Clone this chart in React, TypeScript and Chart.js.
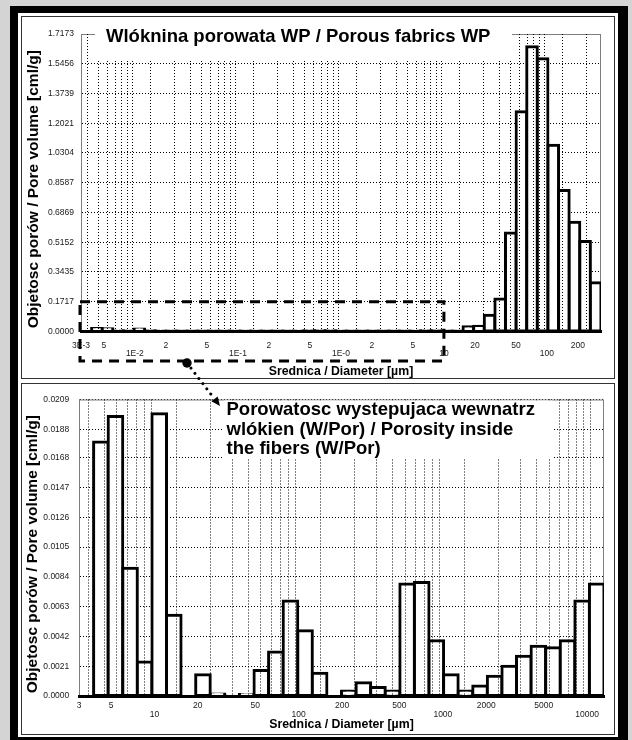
import React, { useEffect, useRef } from 'react';
import { Chart, registerables } from 'chart.js';

Chart.register(...registerables);

const FONT = "'Liberation Sans', Arial, Helvetica, sans-serif";
Chart.defaults.font.family = FONT;

// ---------- Top panel: Porous fabrics WP ----------
const topValues = [
  0, 0.017, 0.016, 0.005, 0.001, 0.015, 0.004, 0.002, 0.001, 0.001,
  0.001, 0.001, 0.001, 0.002, 0.003, 0.003, 0.002, 0.001, 0.001, 0.001,
  0.002, 0.004, 0.004, 0.004, 0.002, 0.001, 0.001, 0.001, 0.001, 0.001,
  0.001, 0.002, 0.004, 0.004, 0.001, 0.001, 0.027, 0.031, 0.094, 0.187,
  0.568, 1.268, 1.643, 1.575, 1.075, 0.814, 0.631, 0.519, 0.282,
];
const topBins = topValues.map((_, i) => String(i + 1));
const topYTicks = [0, 0.1717, 0.3435, 0.5152, 0.6869, 0.8587, 1.0304, 1.2021, 1.3739, 1.5456, 1.7173];
const topYTickLabels = ['0.0000', '0.1717', '0.3435', '0.5152', '0.6869', '0.8587', '1.0304', '1.2021', '1.3739', '1.5456', '1.7173'];
const topXRange = [0.003, 335];
const topXDecades = [-3, -2, -1, 0, 1, 2];
const topXLabelValues = [0.003, 0.005, 0.01, 0.02, 0.05, 0.1, 0.2, 0.5, 1, 2, 5, 10, 20, 50, 100, 200];
const topXLabels = ['3E-3', '5', '1E-2', '2', '5', '1E-1', '2', '5', '1E-0', '2', '5', '10', '20', '50', '100', '200'];
const topZoomRegion = [0.003, 10, 0.1717];
const topTitle = ['Wlóknina porowata WP / Porous fabrics WP'];

// ---------- Bottom panel: porosity inside the fibers ----------
const bottomValues = [
  0, 0.0179, 0.0197, 0.009, 0.0024, 0.0199, 0.0057, 0, 0.0015, 0.00014,
  0.00003, 0.0001, 0.0018, 0.0031, 0.0067, 0.0046, 0.0016, 0, 0.00035, 0.00094,
  0.0006, 0.00035, 0.0079, 0.008, 0.0039, 0.0015, 0.00035, 0.0007, 0.0014, 0.0021,
  0.0028, 0.0035, 0.0034, 0.0039, 0.0067, 0.0079,
];
const bottomBins = bottomValues.map((_, i) => String(i + 1));
const bottomYTicks = [0, 0.0021, 0.0042, 0.0063, 0.0084, 0.0105, 0.0126, 0.0147, 0.0168, 0.0188, 0.0209];
const bottomYTickLabels = ['0.0000', '0.0021', '0.0042', '0.0063', '0.0084', '0.0105', '0.0126', '0.0147', '0.0168', '0.0188', '0.0209'];
const bottomXRange = [3, 13100];
const bottomXDecades = [0, 1, 2, 3, 4];
const bottomXLabelValues = [3, 5, 10, 20, 50, 100, 200, 500, 1000, 2000, 5000, 10000];
const bottomXLabels = ['3', '5', '10', '20', '50', '100', '200', '500', '1000', '2000', '5000', '10000'];
const bottomTitle = ['Porowatosc wystepujaca wewnatrz', 'wlókien (W/Por) / Porosity inside', 'the fibers (W/Por)'];

const gridMultipliers = [1, 2, 3, 4, 5, 6, 7, 8, 9];
const yAxisTitle = 'Objetosc porów / Pore volume [cml/g]';
const xAxisTitle = 'Srednica / Diameter [µm]';

// annotation arrow in page pixels
const arrowFrom = [187, 363];
const arrowTo = [220, 406];

function logGridTicks(decades: number[], range: number[]) {
  const out: number[] = [];
  decades.forEach((d) =>
    gridMultipliers.forEach((m) => {
      const v = m * Math.pow(10, d);
      if (v >= range[0] * (1 - 1e-9) && v <= range[1]) out.push(v);
    })
  );
  return out;
}

function xLabel(v: number, values: number[], labels: string[]) {
  const i = values.findIndex((t) => Math.abs(t - v) <= t * 1e-6);
  if (i < 0) return '';
  const lg = Math.log10(v);
  return Math.abs(lg - Math.round(lg)) < 1e-6 ? ['', labels[i]] : labels[i];
}

function drawArrow(ctx: CanvasRenderingContext2D, ox: number, oy: number) {
  const [x0, y0] = arrowFrom;
  const [x1, y1] = arrowTo;
  const ang = Math.atan2(y1 - y0, x1 - x0);
  const hx = x1 - 9 * Math.cos(ang);
  const hy = y1 - 9 * Math.sin(ang);
  ctx.save();
  ctx.translate(-ox, -oy);
  ctx.strokeStyle = '#000';
  ctx.fillStyle = '#000';
  ctx.lineWidth = 3;
  ctx.lineCap = 'round';
  ctx.setLineDash([0.01, 6.5]);
  ctx.beginPath();
  ctx.moveTo(x0, y0);
  ctx.lineTo(hx, hy);
  ctx.stroke();
  ctx.setLineDash([]);
  ctx.beginPath();
  ctx.moveTo(x1, y1);
  ctx.lineTo(hx + 4 * Math.sin(ang), hy - 4 * Math.cos(ang));
  ctx.lineTo(hx - 4 * Math.sin(ang), hy + 4 * Math.cos(ang));
  ctx.closePath();
  ctx.fill();
  ctx.beginPath();
  ctx.arc(x0, y0, 4.7, 0, Math.PI * 2);
  ctx.fill();
  ctx.restore();
}

function drawFrame(chart: any) {
  const { ctx, chartArea: a } = chart;
  ctx.save();
  ctx.strokeStyle = '#7f7f7f';
  ctx.lineWidth = 1;
  ctx.strokeRect(a.left + 0.5, a.top + 0.5, a.right - a.left - 1, a.bottom - a.top);
  ctx.restore();
}

function drawTitleBox(chart: any, lines: string[], box: number[], text: number[]) {
  const { ctx, chartArea: a } = chart;
  ctx.save();
  ctx.fillStyle = '#ffffff';
  ctx.fillRect(a.left + box[0], a.top + box[1], box[2], box[3]);
  ctx.fillStyle = '#000';
  ctx.font = `bold 18.5px ${FONT}`;
  ctx.textAlign = 'left';
  ctx.textBaseline = 'middle';
  lines.forEach((line, i) => ctx.fillText(line, a.left + text[0], a.top + text[1] + i * 19.6));
  ctx.restore();
}

const topDecor = {
  id: 'topDecor',
  beforeDatasetsDraw(chart: any) {
    drawFrame(chart);
  },
  afterDraw(chart: any) {
    const { ctx, chartArea: a, scales } = chart;
    drawTitleBox(chart, topTitle, [14, -6, 417, 33], [25, 3]);
    const xL = scales.x2.getPixelForValue(topZoomRegion[0]) - 1;
    const xR = scales.x2.getPixelForValue(topZoomRegion[1]);
    const yT = scales.y.getPixelForValue(topZoomRegion[2]);
    const yB = a.bottom + 29.5;
    ctx.save();
    ctx.strokeStyle = '#000';
    ctx.lineWidth = 3;
    ctx.setLineDash([10, 7]);
    ctx.strokeRect(xL, yT, xR - xL, yB - yT);
    ctx.restore();
    drawArrow(ctx, 18, 13);
  },
};

const bottomDecor = {
  id: 'bottomDecor',
  beforeDatasetsDraw(chart: any) {
    drawFrame(chart);
  },
  afterDraw(chart: any) {
    drawTitleBox(chart, bottomTitle, [145, 1, 328, 58], [147.5, 10.5]);
    drawArrow(chart.ctx, 18, 381);
  },
};

type Spec = {
  values: number[];
  bins: string[];
  yTicks: number[];
  yLabels: string[];
  xRange: number[];
  xDecades: number[];
  xLabelValues: number[];
  xLabels: string[];
  padding: { top: number; right: number; bottom: number; left: number };
  yWidth: number;
  xHeight: number;
  yTickPad: number;
  yTitlePad: number;
  xTickPad: number;
  xTickLine: number;
  xTitlePad: number;
  plugin: any;
};

function makeConfig(s: Spec): any {
  const gridVals = logGridTicks(s.xDecades, s.xRange);
  return {
    type: 'bar',
    data: {
      labels: s.bins,
      datasets: [
        {
          data: s.values,
          backgroundColor: '#ffffff',
          borderColor: '#000000',
          borderWidth: 3,
          borderSkipped: false,
          inflateAmount: 1.5,
          barPercentage: 1,
          categoryPercentage: 1,
          xAxisID: 'x',
          yAxisID: 'y',
        },
      ],
    },
    options: {
      responsive: false,
      animation: false,
      events: [],
      layout: { padding: s.padding },
      plugins: { legend: { display: false }, tooltip: { enabled: false }, title: { display: false } },
      scales: {
        x: { type: 'category', display: false, offset: true },
        x2: {
          type: 'logarithmic',
          axis: 'x',
          position: 'bottom',
          min: s.xRange[0],
          max: s.xRange[1],
          bounds: 'data',
          afterBuildTicks: (sc: any) => {
            sc.ticks = gridVals.map((v) => ({ value: v }));
          },
          afterFit: (sc: any) => {
            sc.height = s.xHeight;
          },
          grid: { color: '#000', lineWidth: 1, drawTicks: false, z: 1 },
          border: { display: true, color: '#000', width: 3, dash: [1, 2], z: 2 },
          ticks: {
            autoSkip: false,
            maxRotation: 0,
            minRotation: 0,
            padding: s.xTickPad,
            color: '#1a1a1a',
            font: { size: 8.5, lineHeight: s.xTickLine },
            callback: (v: any) => xLabel(Number(v), s.xLabelValues, s.xLabels),
          },
          title: {
            display: true,
            text: xAxisTitle,
            color: '#000',
            font: { size: 12.3, weight: 'bold', lineHeight: 1.2 },
            padding: { top: 0, bottom: s.xTitlePad },
          },
        },
        y: {
          type: 'linear',
          position: 'left',
          min: 0,
          max: s.yTicks[s.yTicks.length - 1],
          bounds: 'data',
          afterBuildTicks: (sc: any) => {
            sc.ticks = s.yTicks.map((v) => ({ value: v }));
          },
          afterFit: (sc: any) => {
            sc.width = s.yWidth;
          },
          grid: { color: '#000', lineWidth: 1, drawTicks: false },
          border: { display: true, color: '#7f7f7f', width: 1, dash: [1, 2] },
          ticks: {
            padding: s.yTickPad,
            color: '#1a1a1a',
            font: { size: 8.5 },
            callback: (_v: any, i: number) => s.yLabels[i],
          },
          title: {
            display: true,
            text: yAxisTitle + '   ',
            color: '#000',
            font: { size: 15.5, weight: 'bold', lineHeight: 1.2 },
            padding: { top: s.yTitlePad, bottom: 0 },
          },
        },
      },
    },
    plugins: [s.plugin],
  };
}

export default function App() {
  const topRef = useRef<HTMLCanvasElement>(null);
  const bottomRef = useRef<HTMLCanvasElement>(null);

  useEffect(() => {
    const top = new Chart(
      topRef.current as HTMLCanvasElement,
      makeConfig({
        values: topValues,
        bins: topBins,
        yTicks: topYTicks,
        yLabels: topYTickLabels,
        xRange: topXRange,
        xDecades: topXDecades,
        xLabelValues: topXLabelValues,
        xLabels: topXLabels,
        padding: { top: 21, right: 17, bottom: 0, left: 0 },
        yWidth: 63,
        xHeight: 49.5,
        yTickPad: 7,
        yTitlePad: 6.7,
        xTickPad: 9.7,
        xTickLine: 1.0,
        xTitlePad: 1.9,
        plugin: topDecor,
      })
    );
    const bottom = new Chart(
      bottomRef.current as HTMLCanvasElement,
      makeConfig({
        values: bottomValues,
        bins: bottomBins,
        yTicks: bottomYTicks,
        yLabels: bottomYTickLabels,
        xRange: bottomXRange,
        xDecades: bottomXDecades,
        xLabelValues: bottomXLabelValues,
        xLabels: bottomXLabels,
        padding: { top: 18.5, right: 14, bottom: 0, left: 0 },
        yWidth: 61,
        xHeight: 40,
        yTickPad: 9.7,
        yTitlePad: 5.7,
        xTickPad: 5.2,
        xTickLine: 1.08,
        xTitlePad: 4.1,
        plugin: bottomDecor,
      })
    );
    return () => {
      top.destroy();
      bottom.destroy();
    };
  }, []);

  const abs = (l: number, t: number, w: number, h: number, extra: any = {}) => ({
    position: 'absolute' as const,
    left: l,
    top: t,
    width: w,
    height: h,
    boxSizing: 'border-box' as const,
    ...extra,
  });

  return (
    <div style={abs(0, 0, 632, 740, { background: '#d4d4d4', overflow: 'hidden' })}>
      <div style={abs(10, 6, 618, 740, { background: '#000' })} />
      <div style={abs(18, 13, 600, 724, { background: '#fff' })} />
      <div style={abs(21, 16, 594, 363, { border: '1.3px solid #333' })} />
      <div style={abs(21, 383, 594, 352, { border: '1.3px solid #333' })} />
      <canvas ref={topRef} width={600} height={368} style={{ position: 'absolute', left: 18, top: 13 }} />
      <canvas ref={bottomRef} width={600} height={355} style={{ position: 'absolute', left: 18, top: 381 }} />
    </div>
  );
}
